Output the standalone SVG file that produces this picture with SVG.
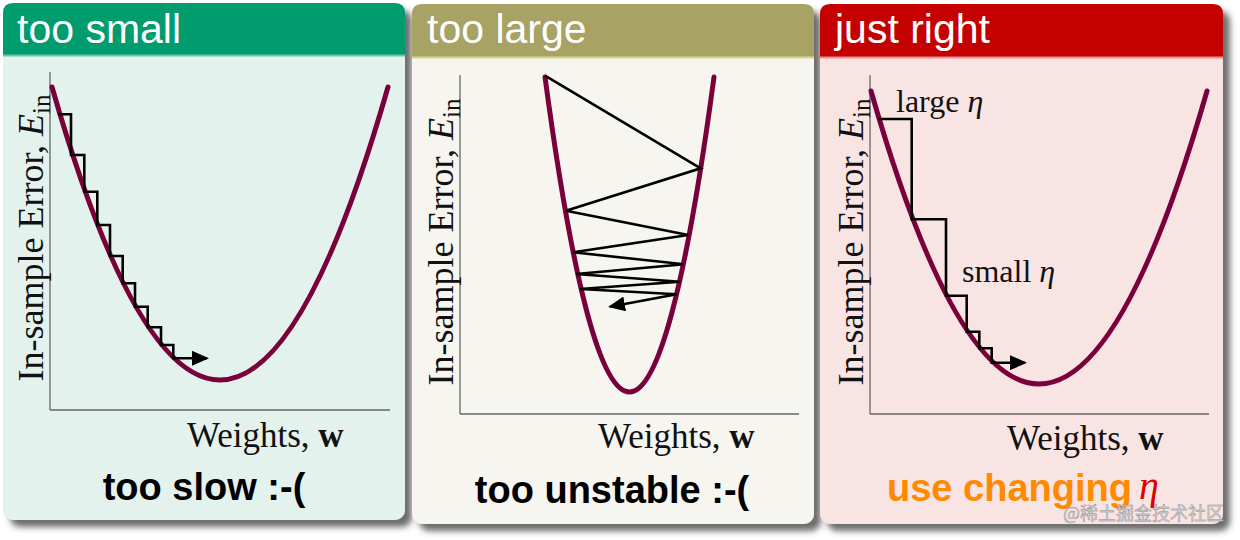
<svg xmlns="http://www.w3.org/2000/svg" width="1240" height="540" viewBox="0 0 1240 540">
<defs>
<filter id="sh" x="-5%" y="-5%" width="115%" height="115%">
<feGaussianBlur in="SourceAlpha" stdDeviation="3"/>
<feOffset dx="7" dy="7" result="b"/>
<feFlood flood-color="#3c3c3c" flood-opacity="0.75"/>
<feComposite in2="b" operator="in"/>
<feMerge><feMergeNode/><feMergeNode in="SourceGraphic"/></feMerge>
</filter>
<marker id="ah" viewBox="0 0 17 15" refX="15" refY="7.5" markerWidth="17" markerHeight="15" markerUnits="userSpaceOnUse" orient="auto"><path d="M0,0 L17,7.5 L0,15 z" fill="#000"/></marker>
<style>
.hd{font-family:"Liberation Sans",Arial,sans-serif;font-size:41px;fill:#fff}
.bt{font-family:"Liberation Sans",Arial,sans-serif;font-size:38px;font-weight:bold;fill:#000}
.sr{font-family:"Liberation Serif","Times New Roman",serif;fill:#111}
.ax{font-size:35px}
.yl{font-size:36px}
.lb{font-size:32px}
.it{font-style:italic}
.axis{stroke:#666;stroke-width:1.3;fill:none}
.crv{stroke:#7a003c;stroke-width:5;fill:none;stroke-linecap:round}
.stp{stroke:#000;stroke-width:2.6;fill:none;stroke-linejoin:miter}
</style>
</defs>
<rect width="1240" height="540" fill="#fff"/>

<g id="panel-too-small">
<rect x="3" y="3" width="402" height="517" rx="10" fill="#e4f2ee" filter="url(#sh)"/>
<path d="M3,55 V13 Q3,3 13,3 H395 Q405,3 405,13 V55 Z" fill="#009c6e"/>
<line x1="3" y1="55.5" x2="405" y2="55.5" stroke="#6cc4a6" stroke-width="2"/>
<text class="hd" x="17" y="43">too small</text>
<line class="axis" x1="50" y1="72" x2="50" y2="410"/>
<line class="axis" x1="50" y1="410" x2="390" y2="410"/>
<path class="crv" d="M52,87 Q220,673 388,87"/>
<text class="sr yl" transform="translate(43,238) rotate(-90)" text-anchor="middle">In-sample Error, <tspan class="it">E</tspan><tspan font-size="25" dy="7">in</tspan></text>
<text class="sr ax" x="187" y="447">Weights, <tspan font-weight="bold">w</tspan></text>
<text class="bt" x="204" y="500" text-anchor="middle">too slow :-(</text>
</g>

<g id="panel-too-large">
<rect x="412" y="4" width="402" height="520" rx="10" fill="#f6f5ef" filter="url(#sh)"/>
<path d="M412,57 V14 Q412,4 422,4 H804 Q814,4 814,14 V57 Z" fill="#a8a265"/>
<line x1="412" y1="57.5" x2="814" y2="57.5" stroke="#d6d890" stroke-width="2"/>
<text class="hd" x="427" y="43">too large</text>
<line class="axis" x1="460" y1="75" x2="460" y2="414"/>
<line class="axis" x1="460" y1="414" x2="799" y2="414"/>
<path class="crv" d="M545,77 Q629.5,707 714,77"/>
<text class="sr yl" transform="translate(453,242) rotate(-90)" text-anchor="middle">In-sample Error, <tspan class="it">E</tspan><tspan font-size="25" dy="7">in</tspan></text>
<text class="sr ax" x="598" y="448">Weights, <tspan font-weight="bold">w</tspan></text>
<text class="bt" x="612" y="503" text-anchor="middle">too unstable :-(</text>
</g>

<g id="panel-just-right">
<rect x="820" y="4" width="403" height="520" rx="10" fill="#f9e4e4" filter="url(#sh)"/>
<path d="M820,57 V14 Q820,4 830,4 H1213 Q1223,4 1223,14 V57 Z" fill="#c40000"/>
<line x1="820" y1="57.5" x2="1223" y2="57.5" stroke="#ec9090" stroke-width="2"/>
<text class="hd" x="835" y="43">just right</text>
<line class="axis" x1="870" y1="75" x2="870" y2="414"/>
<line class="axis" x1="870" y1="414" x2="1209" y2="414"/>
<path class="crv" d="M871,91 Q1039,677 1207,91"/>
<text class="sr yl" transform="translate(863,242) rotate(-90)" text-anchor="middle">In-sample Error, <tspan class="it">E</tspan><tspan font-size="25" dy="7">in</tspan></text>
<text class="sr ax" x="1007" y="450">Weights, <tspan font-weight="bold">w</tspan></text>
<text class="sr lb" x="896" y="112">large <tspan class="it">η</tspan></text>
<text class="sr lb" x="962" y="282">small <tspan class="it">η</tspan></text>
<text class="bt" x="887" y="501" style="fill:#ff8a00">use changing</text>
<text class="sr it" x="1139" y="499" font-size="40" style="fill:#e00000">η</text>
</g>

<g id="connectors">
<path class="stp" marker-end="url(#ah)" d="M58,114.3 H71 V155 H84.3 V191.7 H97.3 V225 H110 V256 H122.7 V283.3 H135 V306.7 H147.7 V327.3 H161 V345 H173.3 V358.3 H207"/>
<path class="stp" marker-end="url(#ah)" d="M545,75.7 L700.7,168.3 L566,210.7 L688.3,235 L573.3,252.3 L684,264.3 L576,274 L680,281.7 L580,289 L676.7,294.3 L610,306.7"/>
<path class="stp" marker-end="url(#ah)" d="M878.3,119 H911.7 V219.3 H946 V295.7 H966.7 V331.7 H979.3 V348.3 H991.7 V362.7 H1025"/>
</g>

<text x="1063" y="520" font-family="'Noto Sans CJK SC',sans-serif" font-size="18" fill="#d4d4d4" stroke="#8a8a8a" stroke-width="0.4">@稀土掘金技术社区</text>
</svg>
